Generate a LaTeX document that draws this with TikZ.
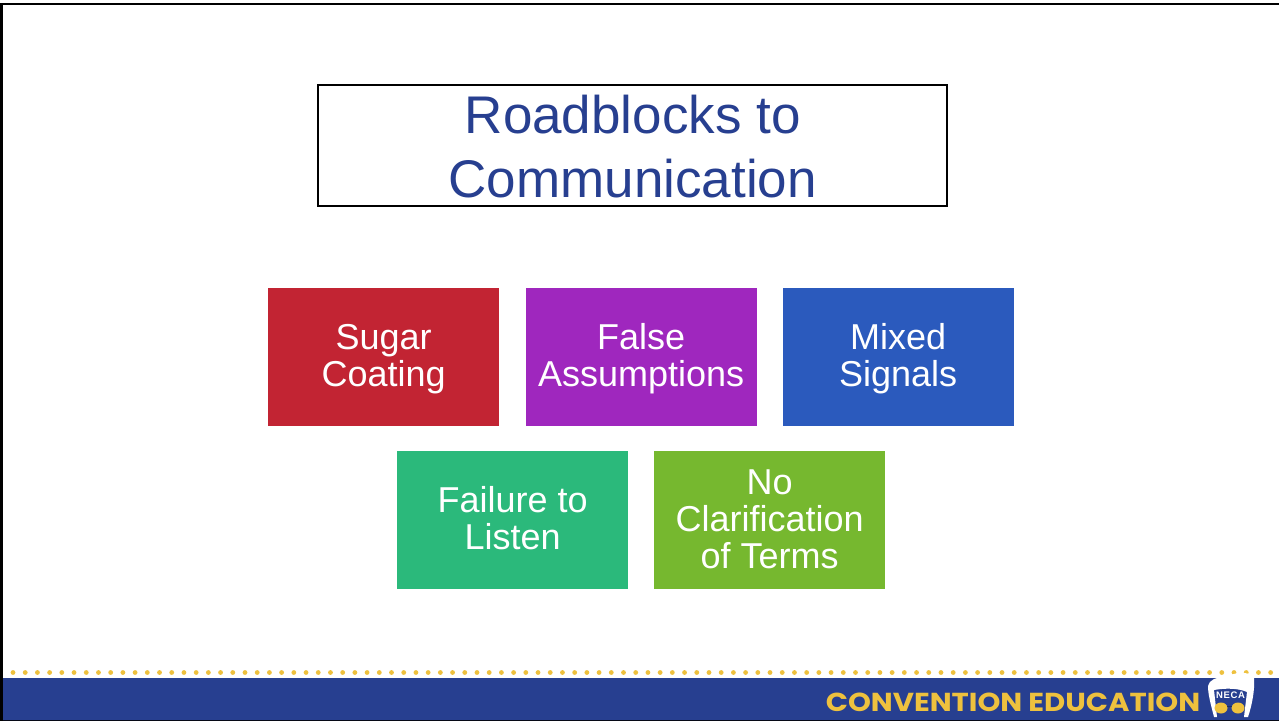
\documentclass[tikz,border=0pt]{standalone}
\usepackage{fontspec}
\setmainfont{Liberation Sans}
\newfontfamily\footfont{Poppins}
\definecolor{navy}{HTML}{273F90}
\definecolor{gold}{HTML}{EEC13E}
\definecolor{cred}{HTML}{C22433}
\definecolor{cpurple}{HTML}{9F27BE}
\definecolor{cblue}{HTML}{2B5ABD}
\definecolor{cgreen}{HTML}{2BB97B}
\definecolor{clime}{HTML}{76B82F}
\tikzset{
 card/.style={minimum width=231pt,minimum height=137.5pt,inner sep=0pt,anchor=north west},
 cardtext/.style={inner sep=0pt,text=white,align=center,font=\fontsize{36}{37}\selectfont},
 titlebox/.style={draw=black,line width=2.4pt,minimum width=629pt,minimum height=121pt,inner sep=0pt,anchor=north west},
 titletext/.style={inner sep=0pt,text=navy,align=center,font=\fontsize{53}{64}\selectfont},
 dotmark/.style={fill=gold,draw=none}
}
\begin{document}
\begin{tikzpicture}[x=1pt,y=-1pt]
\useasboundingbox (0,0) rectangle (1279,721);
\fill[white] (0,0) rectangle (1279,721);
% frame
\fill[black] (0,3) rectangle (1279,5);
\fill[black] (0,3) rectangle (3,721);
% title
\node[titlebox] (title) at (317,84) {};
\node[titletext] (titlelabel) at ([yshift=-1pt]title.center) {Roadblocks to\\Communication};
% cards
\node[card,fill=cred] (sugar) at (268,288) {};
\node[cardtext] at ([yshift=-2pt]sugar.center) {Sugar\\Coating};
\node[card,fill=cpurple] (false) at (525.5,288) {};
\node[cardtext] at ([yshift=-2pt]false.center) {False\\Assumptions};
\node[card,fill=cblue] (mixed) at (782.5,288) {};
\node[cardtext] at ([yshift=-2pt]mixed.center) {Mixed\\Signals};
\node[card,fill=cgreen] (fail) at (397,451) {};
\node[cardtext] at ([yshift=1.5pt]fail.center) {Failure to\\Listen};
\node[card,fill=clime] (noclar) at (654,451) {};
\node[cardtext] at ([yshift=1pt]noclar.center) {No\\Clarification\\of Terms};
% footer
\foreach \i in {0,...,103} \fill[dotmark] ({13+12.21*\i},672.5) circle (2.4);
\fill[navy] (3,678) rectangle (1279,720);
\fill[black!85!navy] (3,720) rectangle (1279,721);
\node[inner sep=0pt,text=gold,font=\fontsize{26}{26}\footfont\bfseries,xscale=1.12,anchor=center] (conv) at (1013,702) {CONVENTION EDUCATION};
% logo
\fill[white] (1208,686) .. controls (1209,680) and (1216,677) .. (1226,677)
  .. controls (1234,673) and (1246,670) .. (1254,677)
  .. controls (1255,690) and (1252,705) .. (1248,717) -- (1244,717)
  -- (1247,692) .. controls (1238,688) and (1225,688) .. (1214,690) -- (1217,717) -- (1214,717)
  .. controls (1211,705) and (1208,695) .. (1208,686) -- cycle;
\node[inner sep=0pt,text=white,font=\fontsize{9.5}{10}\selectfont\bfseries] (neca) at (1230.5,695) {N\kern0.6pt E\kern0.6pt C\kern0.6pt A};
\fill[gold] (1221,708) ellipse (6.5 and 5.5);
\fill[gold] (1238,708) ellipse (6.5 and 5.5);
\draw[navy!70!black,line width=0.8pt] (1227,706) -- (1232,706);
\end{tikzpicture}
\end{document}
